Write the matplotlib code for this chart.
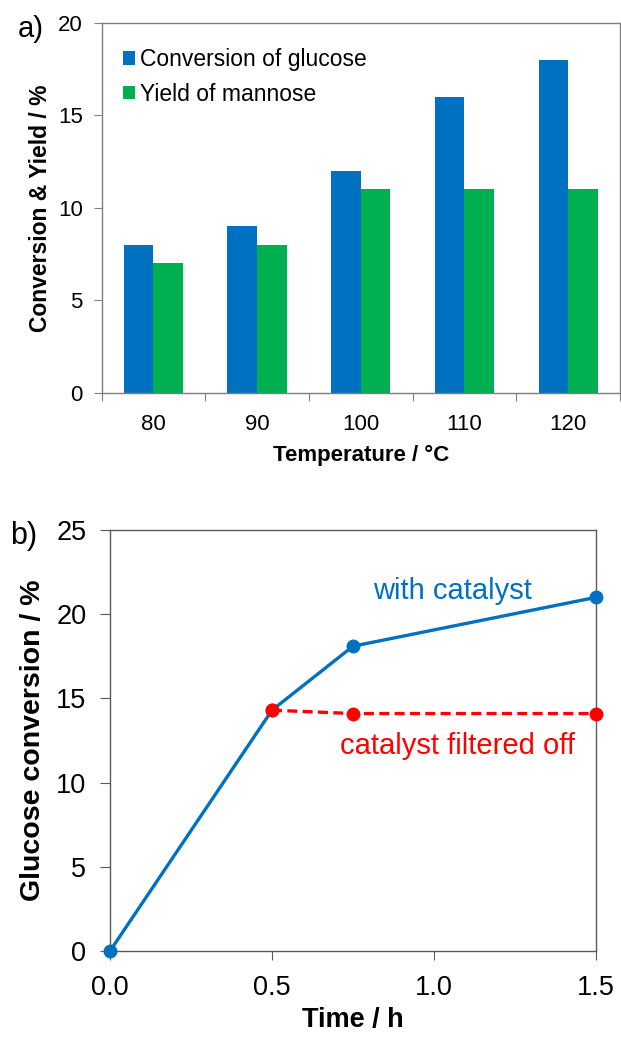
import matplotlib
matplotlib.use("Agg")
import matplotlib.pyplot as plt
import numpy as np

plt.rcParams['font.family'] = ['Liberation Sans', 'DejaVu Sans']

# Panel a data
temperatures = ["80", "90", "100", "110", "120"]
conversion = [8, 9, 12, 16, 18]
yield_mannose = [7, 8, 11, 11, 11]

# Panel b data
time_cat = [0.0, 0.5, 0.75, 1.5]
conv_cat = [0.0, 14.3, 18.1, 21.0]
time_filt = [0.5, 0.75, 1.5]
conv_filt = [14.3, 14.1, 14.1]

BLUE = "#0070C0"
GREEN = "#00B050"
RED = "#FF0000"
SPINE = "#7F7F7F"
SPINE2 = "#5A5A5A"

W, H = 621, 1038
fig = plt.figure(figsize=(W / 100, H / 100), dpi=100)

def frac(l, t, r, b):
    return [l / W, 1 - b / H, (r - l) / W, (b - t) / H]

# ---- Panel a ----
ax1 = fig.add_axes(frac(101.5, 22.7, 620, 393))
x = np.arange(len(temperatures))
bw = 0.285
ax1.bar(x - bw / 2, conversion, bw, color=BLUE, label="Conversion of glucose")
ax1.bar(x + bw / 2, yield_mannose, bw, color=GREEN, label="Yield of mannose")
ax1.set_xlim(-0.5, len(temperatures) - 0.5)
ax1.set_ylim(0, 20)
ax1.set_yticks([0, 5, 10, 15, 20])
ax1.set_xticks(np.arange(-0.5, len(temperatures)), minor=False)
ax1.set_xticklabels([])
ax1.set_xticks(x, minor=True)
ax1.set_xticklabels(temperatures, minor=True)
ax1.tick_params(axis='x', which='major', direction='out', length=5.5, color=SPINE)
ax1.tick_params(axis='x', which='minor', length=0, pad=15, labelsize=16)
ax1.tick_params(axis='y', direction='out', length=5.5, color=SPINE, labelsize=16, pad=8)
for s in ax1.spines.values():
    s.set_color(SPINE)
    s.set_linewidth(1.0)
ax1.set_xlabel("Temperature / °C", fontsize=16, fontweight='bold', labelpad=7)
ax1.set_ylabel("Conversion & Yield / %", fontsize=16.5, fontweight='bold', labelpad=4.5)
leg = ax1.legend(loc='upper left', frameon=False, fontsize=16.5, handlelength=0.52,
                 handleheight=0.52, handletextpad=0.22, labelspacing=0.5,
                 borderpad=0, borderaxespad=0,
                 bbox_to_anchor=(0.041, 0.931))
fig.text(18 / W, 1 - 29 / H, "a)", fontsize=21, va='center', ha='left')

# ---- Panel b ----
ax2 = fig.add_axes(frac(110, 530, 596, 951))
ax2.plot(time_cat, conv_cat, color=BLUE, lw=2.4, marker='o', ms=9, zorder=3, clip_on=False)
ax2.plot(time_filt, conv_filt, color=RED, lw=2.4, ls=(0, (3, 1.6)), marker='o', ms=9,
         zorder=4, clip_on=False)
ax2.set_xlim(0, 1.5)
ax2.set_ylim(0, 25)
ax2.set_xticks([0.0, 0.5, 1.0, 1.5])
ax2.set_xticklabels(["0.0", "0.5", "1.0", "1.5"])
ax2.set_yticks([0, 5, 10, 15, 20, 25])
ax2.tick_params(axis='x', direction='out', length=6.5, color=SPINE2, labelsize=19.5, pad=11)
ax2.tick_params(axis='y', direction='out', length=7, color=SPINE2, labelsize=19.5, pad=10)
for s in ax2.spines.values():
    s.set_color(SPINE2)
    s.set_linewidth(1.0)
ax2.set_xlabel("Time / h", fontsize=19.5, fontweight='bold', labelpad=4)
ax2.set_ylabel("Glucose conversion / %", fontsize=20.5, fontweight='bold', labelpad=7.5)
ax2.text(0.812, 21.4, "with catalyst", color=BLUE, fontsize=21, ha='left', va='center')
ax2.text(0.71, 12.2, "catalyst filtered off", color=RED, fontsize=21, ha='left', va='center')
fig.text(10 / W, 1 - 536 / H, "b)", fontsize=22, va='center', ha='left')

fig.savefig("out.png", dpi=100)
